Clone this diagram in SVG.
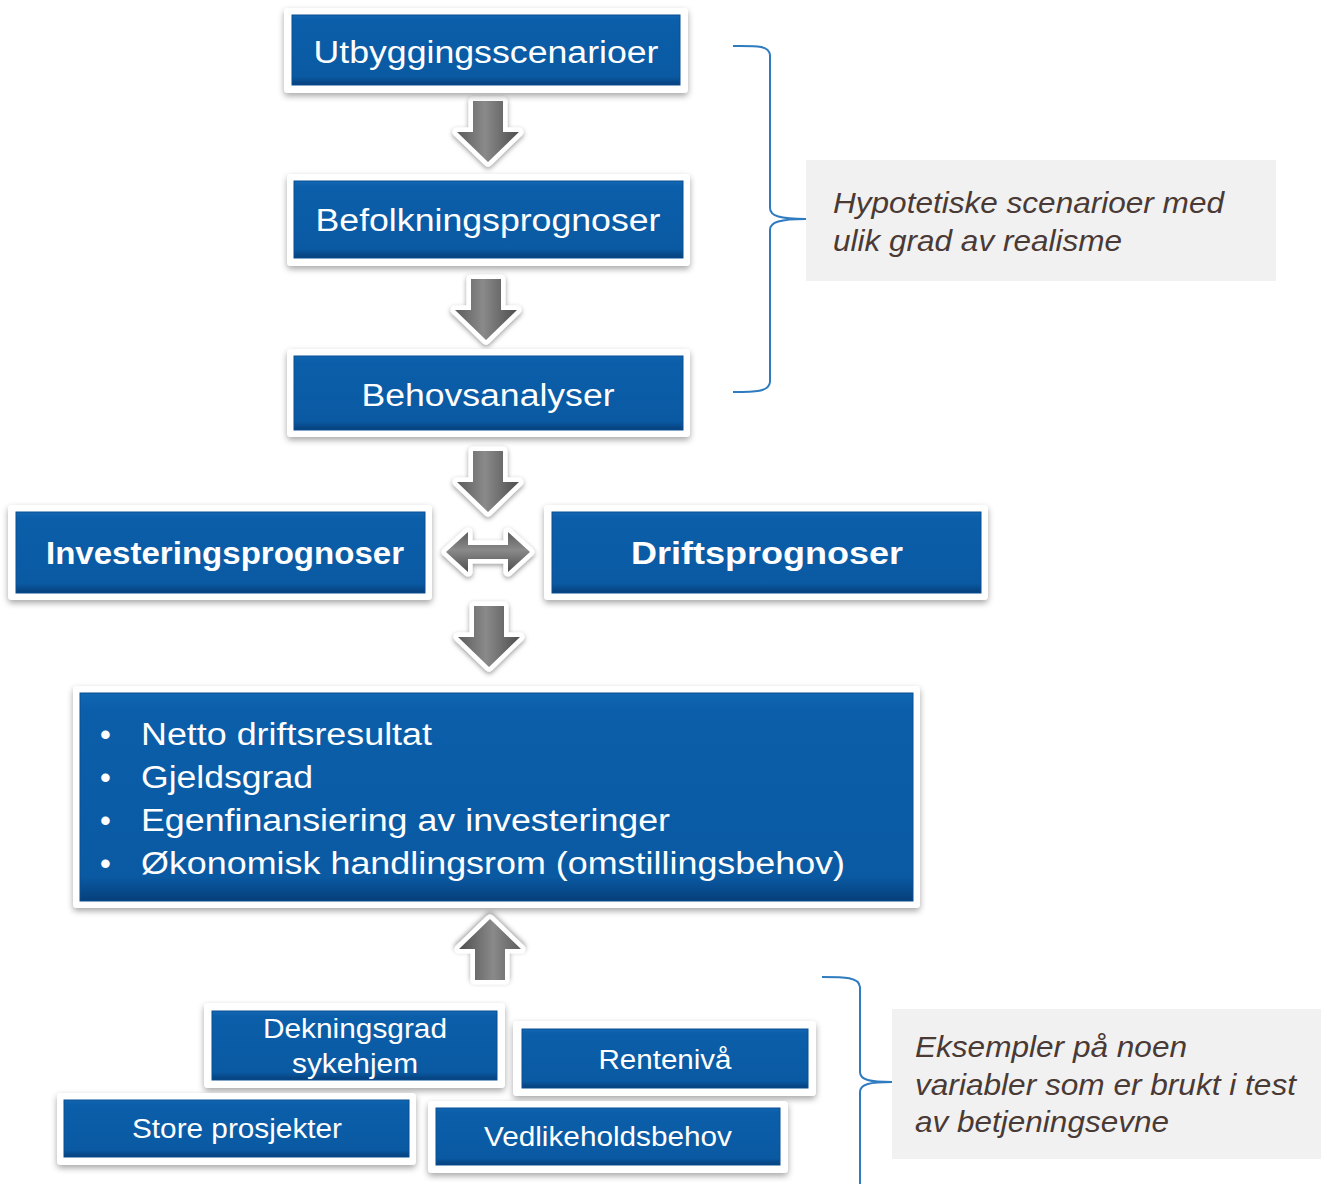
<svg xmlns="http://www.w3.org/2000/svg" width="1324" height="1184" viewBox="0 0 1324 1184">
<defs>
<filter id="sh" x="-10%" y="-20%" width="120%" height="150%">
<feDropShadow dx="0" dy="3" stdDeviation="3" flood-color="#000" flood-opacity="0.35"/>
</filter>
<filter id="ash" x="-30%" y="-30%" width="160%" height="160%">
<feDropShadow dx="0" dy="2" stdDeviation="2.5" flood-color="#000" flood-opacity="0.4"/>
</filter>
<linearGradient id="blue" x1="0" y1="0" x2="0" y2="1">
<stop offset="0" stop-color="#1267b3"/>
<stop offset="0.08" stop-color="#0b5ea9"/>
<stop offset="0.88" stop-color="#0a5aa3"/>
<stop offset="1" stop-color="#063f7a"/>
</linearGradient>
<linearGradient id="gray" x1="0" y1="0" x2="1" y2="0">
<stop offset="0" stop-color="#5c5c5c"/>
<stop offset="0.45" stop-color="#8a8a8a"/>
<stop offset="1" stop-color="#4e4e4e"/>
</linearGradient>
<linearGradient id="grayv" x1="0" y1="0" x2="0" y2="1">
<stop offset="0" stop-color="#5c5c5c"/>
<stop offset="0.45" stop-color="#8a8a8a"/>
<stop offset="1" stop-color="#4e4e4e"/>
</linearGradient>
<path id="down" d="M-15,-30 H15 V1 H31 L0,31 L-31,1 H-15 Z"/>
<path id="dbl" d="M-42,0 L-20,-20 V-7 H20 V-20 L42,0 L20,20 V7 H-20 V20 Z"/>
<style>
.frame{fill:#fff;filter:url(#sh)}
.box{fill:url(#blue);stroke:#0a4f92;stroke-width:1}
.t{font-family:"Liberation Sans",Arial,sans-serif;fill:#fff;text-anchor:middle}
.tl{font-family:"Liberation Sans",Arial,sans-serif;fill:#fff}
.b{font-weight:bold}
.note{font-family:"Liberation Sans",Arial,sans-serif;font-style:italic;fill:#4a3a35;font-size:29px}
.arr{fill:url(#gray);stroke:#fff;stroke-width:9;stroke-linejoin:round;paint-order:stroke;filter:url(#ash)}
.arrd{fill:url(#grayv);stroke:#fff;stroke-width:9;stroke-linejoin:round;paint-order:stroke;filter:url(#ash)}
.brace{fill:none;stroke:#2e7bc0;stroke-width:2}
.gbox{fill:#f1f1f1}
</style>
</defs>

<g id="connectors">
<use href="#down" class="arr" transform="translate(488,131)"/>
<use href="#down" class="arr" transform="translate(486,309)"/>
<use href="#down" class="arr" transform="translate(488,481)"/>
<use href="#dbl" class="arrd" transform="translate(488,552)"/>
<use href="#down" class="arr" transform="translate(489,636)"/>
<use href="#down" class="arr" transform="translate(490,950) rotate(180)"/>
<path class="brace" d="M733,46 C755,46 769,45 770,55 V208 C770,216 780,219 806,219 C780,219 770,222 770,230 V382 C769,392 755,392 733,392"/>
<path class="brace" d="M822,977 C845,977 859,977 860,987 V1072 C860,1080 870,1082 892,1082 C870,1082 860,1084 860,1092 V1184"/>
</g>

<g id="n1">
<rect class="frame" x="284" y="8" width="404" height="85" rx="4"/>
<rect class="box" x="292" y="15" width="388" height="70"/>
<text class="t" x="486" y="63" font-size="31" textLength="345" lengthAdjust="spacingAndGlyphs">Utbyggingsscenarioer</text>
</g>
<g id="n2">
<rect class="frame" x="287" y="174" width="403" height="92" rx="4"/>
<rect class="box" x="294" y="181" width="389" height="77"/>
<text class="t" x="488" y="231" font-size="31" textLength="345" lengthAdjust="spacingAndGlyphs">Befolkningsprognoser</text>
</g>
<g id="n3">
<rect class="frame" x="287" y="349" width="403" height="88" rx="4"/>
<rect class="box" x="294" y="356" width="389" height="74"/>
<text class="t" x="488" y="406" font-size="31" textLength="253" lengthAdjust="spacingAndGlyphs">Behovsanalyser</text>
</g>
<g id="n4">
<rect class="frame" x="8" y="505" width="424" height="95" rx="4"/>
<rect class="box" x="16" y="512" width="409" height="81"/>
<text class="t b" x="225" y="564" font-size="31" textLength="358" lengthAdjust="spacingAndGlyphs">Investeringsprognoser</text>
</g>
<g id="n5">
<rect class="frame" x="544" y="505" width="444" height="95" rx="4"/>
<rect class="box" x="552" y="512" width="429" height="81"/>
<text class="t b" x="767" y="564" font-size="31" textLength="272" lengthAdjust="spacingAndGlyphs">Driftsprognoser</text>
</g>
<g id="n6">
<rect class="frame" x="73" y="686" width="847" height="222" rx="4"/>
<rect class="box" x="80" y="693" width="833" height="208"/>
<g class="tl" font-size="31">
<text x="100" y="745">•</text>
<text x="141" y="745" textLength="291" lengthAdjust="spacingAndGlyphs">Netto driftsresultat</text>
<text x="100" y="788">•</text>
<text x="141" y="788" textLength="172" lengthAdjust="spacingAndGlyphs">Gjeldsgrad</text>
<text x="100" y="831">•</text>
<text x="141" y="831" textLength="529" lengthAdjust="spacingAndGlyphs">Egenfinansiering av investeringer</text>
<text x="100" y="874">•</text>
<text x="141" y="874" textLength="704" lengthAdjust="spacingAndGlyphs">Økonomisk handlingsrom (omstillingsbehov)</text>
</g>
</g>
<g id="n7">
<rect class="frame" x="204" y="1003" width="301" height="85" rx="4"/>
<rect class="box" x="212" y="1011" width="285" height="69"/>
<text class="t" x="355" y="1038" font-size="27" textLength="184" lengthAdjust="spacingAndGlyphs">Dekningsgrad</text>
<text class="t" x="355" y="1073" font-size="27" textLength="126" lengthAdjust="spacingAndGlyphs">sykehjem</text>
</g>
<g id="n8">
<rect class="frame" x="513" y="1021" width="303" height="75" rx="4"/>
<rect class="box" x="522" y="1029" width="286" height="59"/>
<text class="t" x="665" y="1069" font-size="27" textLength="133" lengthAdjust="spacingAndGlyphs">Rentenivå</text>
</g>
<g id="n9">
<rect class="frame" x="57" y="1093" width="359" height="72" rx="4"/>
<rect class="box" x="64" y="1100" width="345" height="57"/>
<text class="t" x="237" y="1138" font-size="27" textLength="210" lengthAdjust="spacingAndGlyphs">Store prosjekter</text>
</g>
<g id="n10">
<rect class="frame" x="428" y="1101" width="360" height="72" rx="4"/>
<rect class="box" x="436" y="1108" width="344" height="57"/>
<text class="t" x="608" y="1146" font-size="27" textLength="248" lengthAdjust="spacingAndGlyphs">Vedlikeholdsbehov</text>
</g>
<g id="note1">
<rect class="gbox" x="806" y="160" width="470" height="121"/>
<text class="note" x="833" y="213" textLength="391" lengthAdjust="spacingAndGlyphs">Hypotetiske scenarioer med</text>
<text class="note" x="833" y="251" textLength="289" lengthAdjust="spacingAndGlyphs">ulik grad av realisme</text>
</g>
<g id="note2">
<rect class="gbox" x="892" y="1009" width="429" height="150"/>
<text class="note" x="915" y="1057" textLength="272" lengthAdjust="spacingAndGlyphs">Eksempler på noen</text>
<text class="note" x="915" y="1095" textLength="381" lengthAdjust="spacingAndGlyphs">variabler som er brukt i test</text>
<text class="note" x="915" y="1132" textLength="254" lengthAdjust="spacingAndGlyphs">av betjeningsevne</text>
</g>
</svg>
